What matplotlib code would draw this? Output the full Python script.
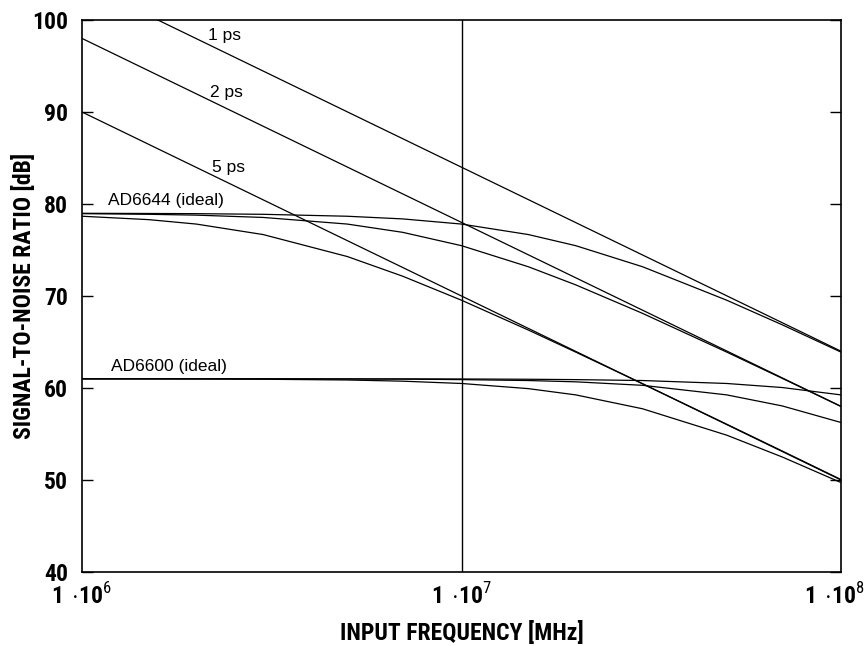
import matplotlib.pyplot as plt
import matplotlib.transforms as mtransforms
import numpy as np
from matplotlib import font_manager

# pick a condensed sans that has a real bold face
bold_faces = {f.name for f in font_manager.fontManager.ttflist if f.weight in (700, 'bold')}
narrow_choices = ['Liberation Sans Narrow', 'Arial Narrow', 'Roboto Condensed', 'PT Sans Narrow',
                  'Archivo Narrow', 'Asap Condensed', 'Saira SemiCondensed']
narrow_name = next((n for n in narrow_choices if n in bold_faces), 'DejaVu Sans')

plt.rcParams['mathtext.fontset'] = 'custom'
plt.rcParams['mathtext.rm'] = narrow_name
plt.rcParams['mathtext.bf'] = narrow_name + ':bold'

NARROW = [narrow_name, 'DejaVu Sans']
PLAIN = ['Liberation Sans', 'DejaVu Sans']

# input frequency, Hz
freq = [1e6, 1.5e6, 2e6, 3e6, 5e6, 7e6, 1e7, 1.5e7, 2e7, 3e7, 5e7, 7e7, 1e8]

# aperture jitter limits (straight lines on the log axis)
jit_freq = [1e6, 1e8]
jit_1ps = [104.0, 64.0]
jit_2ps = [98.0, 58.0]
jit_5ps = [90.0, 50.0]

# AD6644 (ideal 79 dB) combined with clock jitter
ad6644_1ps = [78.99, 78.97, 78.95, 78.88, 78.67, 78.38, 77.82, 76.68, 75.47, 73.18, 69.54, 66.87, 63.90]
ad6644_2ps = [78.95, 78.88, 78.79, 78.54, 77.82, 76.92, 75.47, 73.18, 71.21, 68.11, 63.90, 61.05, 57.99]
ad6644_5ps = [78.67, 78.30, 77.82, 76.68, 74.29, 72.15, 69.54, 66.30, 63.90, 60.46, 56.06, 53.15, 50.05]

# AD6600 (ideal 61 dB) combined with clock jitter
ad6600_1ps = [61.00, 61.00, 61.00, 61.00, 60.99, 60.99, 60.98, 60.95, 60.91, 60.81, 60.49, 60.05, 59.25]
ad6600_2ps = [61.00, 61.00, 61.00, 60.99, 60.98, 60.96, 60.91, 60.81, 60.67, 60.29, 59.25, 58.05, 56.25]
ad6600_5ps = [60.99, 60.99, 60.98, 60.95, 60.87, 60.74, 60.49, 59.93, 59.25, 57.74, 54.87, 52.50, 49.72]

labels = [
    ('1 ps', 2.15e6, 97.8),
    ('2 ps', 2.17e6, 91.6),
    ('5 ps', 2.2e6, 83.5),
    ('AD6644 (ideal)', 1.17e6, 79.9),
    ('AD6600 (ideal)', 1.19e6, 61.9),
]

fig = plt.figure(figsize=(8.67, 6.46), dpi=100)
ax = fig.add_axes([0.0946, 0.1146, 0.8754, 0.8544])

for snr in (jit_1ps, jit_2ps, jit_5ps):
    ax.plot(jit_freq, snr, color='black', lw=0.9)
for snr in (ad6644_1ps, ad6644_2ps, ad6644_5ps, ad6600_1ps, ad6600_2ps, ad6600_5ps):
    ax.plot(freq, snr, color='black', lw=0.9)

ax.axvline(1e7, color='black', lw=1.0)

for txt, x, y in labels:
    ax.text(x, y, txt, family=PLAIN, fontsize=12.5, ha='left', va='baseline')

ax.set_xscale('log')
ax.set_xlim(1e6, 1e8)
ax.set_ylim(40, 100)
ax.set_yticks(np.arange(40, 101, 10))
ax.set_xticks([1e6, 1e7, 1e8])
ax.set_xticklabels([r'$\mathbf{1\,\cdot\!10}^{\mathrm{%d}}$' % e for e in (6, 7, 8)])
ax.xaxis.set_minor_locator(plt.NullLocator())

ax.tick_params(axis='y', direction='in', length=8, width=1, right=True, pad=10)
ax.tick_params(axis='x', length=0, pad=8)
for lab in ax.get_yticklabels():
    lab.set_family(NARROW)
    lab.set_fontweight('bold')
    lab.set_fontsize(17)
for lab in ax.get_xticklabels():
    lab.set_fontsize(17)

# last decade label hangs a little past the right frame
last = ax.get_xticklabels()[-1]
last.set_horizontalalignment('right')
last.set_transform(last.get_transform()
                   + mtransforms.ScaledTranslation(0.24, 0, fig.dpi_scale_trans))

for sp in ax.spines.values():
    sp.set_linewidth(1.2)

ax.set_xlabel('INPUT FREQUENCY [MHz]', family=NARROW, fontweight='bold', fontsize=17, labelpad=9)
ax.set_ylabel('SIGNAL-TO-NOISE RATIO [dB]', family=NARROW, fontweight='bold', fontsize=17, labelpad=-3)

fig.savefig('out.png', dpi=100)
